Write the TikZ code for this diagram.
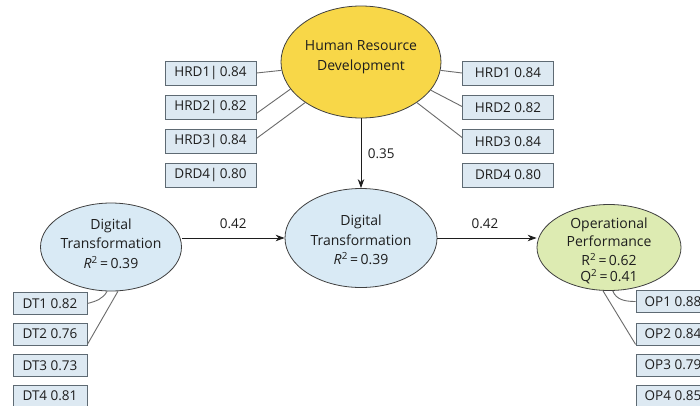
\documentclass[tikz,border=0pt]{standalone}
\usepackage{fontspec}
\setmainfont{Open Sans}
\usetikzlibrary{shapes.geometric,arrows.meta}
\definecolor{boxfill}{HTML}{DDE9F2}
\definecolor{boxline}{HTML}{5E6A73}
\definecolor{ellblue}{HTML}{D9EAF5}
\definecolor{ellyellow}{HTML}{F8D748}
\definecolor{ellgreen}{HTML}{DDEBB2}
\definecolor{linegray}{HTML}{6B6B6B}
\definecolor{txt}{HTML}{1E1E1E}
\tikzset{
  ind/.style={draw=boxline, fill=boxfill, line width=0.8pt, minimum height=24pt, minimum width=91pt, inner sep=0pt, font=\fontsize{13.5}{15}\selectfont, text=txt},
  sind/.style={ind, minimum width=74pt, minimum height=22pt},
  lat/.style={ellipse, draw=txt!85, line width=0.8pt, inner sep=0pt},
  ltxt/.style={align=center, font=\fontsize{14}{19.5}\selectfont, text=txt, inner sep=0pt},
  load/.style={draw=linegray, line width=0.9pt},
  path/.style={draw=txt, line width=0.9pt, -{Stealth[length=9pt,width=6.5pt]}},
  coef/.style={font=\fontsize{13.5}{15}\selectfont, text=txt}
}
\begin{document}
\begin{tikzpicture}[x=1pt,y=-1pt]
\useasboundingbox (0,0) rectangle (700,405);
\fill[white] (0,0) rectangle (700,405);
\begin{scope}
\clip (0,0) rectangle (700,405);
% latent variables
\node[lat, fill=ellyellow, minimum width=160pt, minimum height=112pt] (hrd) at (361,62) {};
\node[ltxt] (hrdt) at (361,57) {Human Resource\\Development};
\node[lat, fill=ellblue, minimum width=152pt, minimum height=99pt] (dtm) at (361,238) {};
\node[ltxt] (dtmt) at (361,240) {Digital\\Transformation\\[0pt]\textit{R}\textsuperscript{2}\,=\,0.39};
\node[lat, fill=ellblue, minimum width=141pt, minimum height=88pt] (dtl) at (111,247) {};
\node[ltxt] (dtlt) at (111,243.5) {Digital\\Transformation\\[0pt]\textit{R}\textsuperscript{2}\,=\,0.39};
\node[lat, fill=ellgreen, minimum width=144pt, minimum height=86pt] (op) at (609,247.5) {};
\node[ltxt, font=\fontsize{14}{18.5}\selectfont] (opt) at (609,251) {Operational\\Performance\\R\textsuperscript{2}\,=\,0.62\\[-2pt]Q\textsuperscript{2}\,=\,0.41};
% HRD indicators left
\node[ind] (l1) at (210.5,73) {HRD1|\,0.84};
\node[ind] (l2) at (210.5,107.5) {HRD2|\,0.82};
\node[ind] (l3) at (210.5,141.5) {HRD3|\,0.84};
\node[ind] (l4) at (210.5,175) {DRD4|\,0.80};
% HRD indicators right
\node[ind] (r1) at (508,73) {HRD1 0.84};
\node[ind] (r2) at (508,107.5) {HRD2 0.82};
\node[ind] (r3) at (508,141.5) {HRD3 0.84};
\node[ind] (r4) at (508,175) {DRD4 0.80};
% DT indicators
\node[sind] (d1) at (50,303.5) {DT1 0.82};
\node[sind] (d2) at (50,334) {DT2 0.76};
\node[sind] (d3) at (50,365.5) {DT3 0.73};
\node[sind] (d4) at (50,396) {DT4 0.81};
% OP indicators
\node[sind] (o1) at (673,301.5) {OP1 0.88};
\node[sind] (o2) at (673,334) {OP2 0.84};
\node[sind] (o3) at (673,365) {OP3 0.79};
\node[sind] (o4) at (673,396) {OP4 0.85};
% loadings
\draw[load] (l1.east) -- (hrd.186);
\draw[load] ([yshift=-6pt]l2.east) -- (hrd.201);
\draw[load] ([yshift=3pt]l3.east) -- (hrd.216);
\draw[load] (r1.west) -- (hrd.354);
\draw[load] ([yshift=1pt]r2.west) -- (hrd.338);
\draw[load] ([yshift=4pt]r3.west) -- (hrd.324);
\draw[load] (d1.east) to[out=15,in=240] (dtl.265);
\draw[load] ([yshift=1pt]d2.south east) -- (dtl.279);
\draw[load] (o1.west) to[out=180,in=290] (op.275);
\draw[load] ([yshift=1pt]o2.south west) -- (op.262);
% structural paths
\draw[path] (hrd) -- (dtm) node[coef, pos=0.5, right=3pt] (c1) {0.35};
\draw[path] (dtl.east |- dtm.west) -- (dtm.west) node[coef, pos=0.5, above=6pt] (c2) {0.42};
\draw[path] (dtm.east) -- (op.west |- dtm.east) node[coef, pos=0.48, above=6pt] (c3) {0.42};
\end{scope}
\end{tikzpicture}
\end{document}
